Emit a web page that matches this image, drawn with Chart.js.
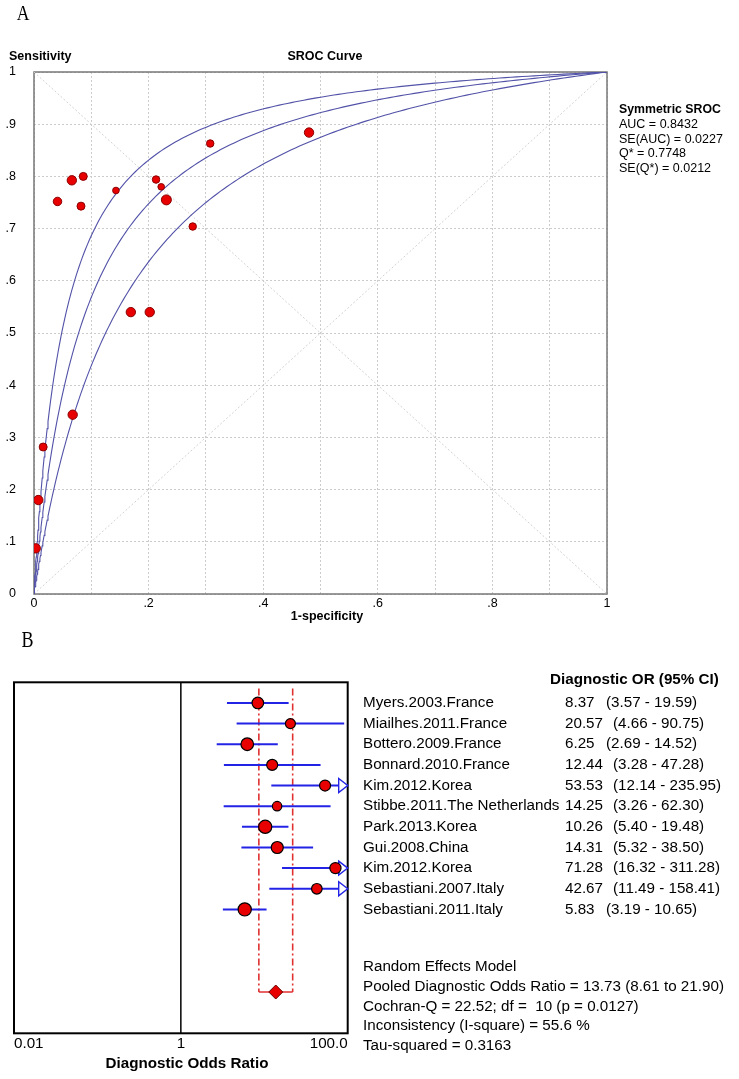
<!DOCTYPE html>
<html><head><meta charset="utf-8">
<script src="https://cdn.jsdelivr.net/npm/chart.js@4.4.1/dist/chart.umd.min.js"></script>
<style>
html,body{margin:0;padding:0;background:#fff;}
canvas{display:block;position:absolute;left:0;}
#cA{top:0;}
#cB{top:630px;}
</style></head><body>
<canvas id="cA" width="739" height="630"></canvas>
<canvas id="cB" width="739" height="449"></canvas>
<script>
// ===== Panel A: SROC data =====
const srocFPR    = [0.041, 0.066, 0.086, 0.082, 0.143, 0.213, 0.222, 0.231, 0.277, 0.3075, 0.480, 0.169, 0.202, 0.0675, 0.016, 0.0075, 0.003];
const srocTPR    = [0.752, 0.7925, 0.800, 0.743, 0.773, 0.794, 0.780, 0.755, 0.704, 0.863, 0.884, 0.540, 0.540, 0.3435, 0.2816, 0.180, 0.0875];
const srocWeight = [18, 22, 16, 16, 11, 14, 11, 25, 14, 14, 22, 22, 22, 22, 16, 22, 22];
// diagnostic odds ratios of the three symmetric SROC curves (upper, pooled, lower)
const srocDOR    = [19.7, 11.85, 7.0];
const srocTitle  = 'Symmetric SROC';
const srocStats  = ['AUC = 0.8432', 'SE(AUC) = 0.0227', 'Q* = 0.7748', 'SE(Q*) = 0.0212'];

// ===== Panel B: forest plot data =====
const studies = ['Myers.2003.France', 'Miailhes.2011.France', 'Bottero.2009.France', 'Bonnard.2010.France',
  'Kim.2012.Korea', 'Stibbe.2011.The Netherlands', 'Park.2013.Korea', 'Gui.2008.China', 'Kim.2012.Korea',
  'Sebastiani.2007.Italy', 'Sebastiani.2011.Italy'];
const dorVal = [8.37, 20.57, 6.25, 12.44, 53.53, 14.25, 10.26, 14.31, 71.28, 42.67, 5.83];
const dorLo  = [3.57, 4.66, 2.69, 3.28, 12.14, 3.26, 5.40, 5.32, 16.32, 11.49, 3.19];
const dorHi  = [19.59, 90.75, 14.52, 47.28, 235.95, 62.30, 19.48, 38.50, 311.28, 158.41, 10.65];
const studyWeight = [9.2, 6.9, 10.9, 8.3, 8.3, 6.1, 12.0, 9.9, 8.6, 7.7, 12.0];
const pooledDOR = [13.73, 8.61, 21.90];
const forestTicks = [0.01, 1, 100];
const forestTickLabels = ['0.01', '1', '100.0'];
const forestHeader = 'Diagnostic OR (95% CI)';
const forestStats = ['Random Effects Model', 'Pooled Diagnostic Odds Ratio = 13.73 (8.61 to 21.90)',
  'Cochran-Q = 22.52; df =  10 (p = 0.0127)', 'Inconsistency (I-square) = 55.6 %', 'Tau-squared = 0.3163'];

// ===== helpers =====
const SANS = '"Liberation Sans", Arial, sans-serif';
function drawText(ctx, s, x, y, size, o = {}) {
  ctx.save();
  ctx.font = (o.bold ? 'bold ' : '') + size + 'px ' + (o.family || SANS);
  ctx.fillStyle = o.color || '#000';
  ctx.textAlign = o.align || 'left';
  ctx.textBaseline = 'middle';
  if (o.sx) { ctx.translate(x, y); ctx.scale(o.sx, 1); ctx.fillText(s, 0, 0); }
  else ctx.fillText(s, x, y);
  ctx.restore();
}
// symmetric SROC curve: odds(TPR) = DOR * odds(FPR)
function srocCurve(D) {
  const pts = [];
  for (let i = 0; i <= 200; i++) {
    const f = Math.pow(i / 200, 2.2);
    pts.push({x: f, y: D * f / (1 - f + D * f)});
  }
  return pts;
}

// ===== Chart A =====
const annotA = {
  id: 'annotA',
  beforeDatasetsDraw(chart) {
    const {ctx, chartArea: a} = chart;
    ctx.save();
    ctx.strokeStyle = '#777'; ctx.lineWidth = 1.5;
    ctx.strokeRect(a.left, a.top, a.right - a.left, a.bottom - a.top);
    ctx.restore();
  },
  afterDraw(chart) {
    const {ctx, chartArea: a} = chart;
    drawText(ctx, 'A', 23, 14, 22, {family: '"Liberation Serif", "DejaVu Serif", serif', align: 'center', sx: 0.8});
    drawText(ctx, 'Sensitivity', 9, 57, 12.5, {bold: true});
    drawText(ctx, 'SROC Curve', 325, 57, 12.5, {bold: true, align: 'center'});
    drawText(ctx, '1-specificity', 327, 617, 12.5, {bold: true, align: 'center'});
    const lx = a.right + 12;
    drawText(ctx, srocTitle, lx, 110, 12.3, {bold: true});
    srocStats.forEach((s, i) => drawText(ctx, s, lx, 124.5 + i * 14.7, 12.5));
  }
};

new Chart(document.getElementById('cA'), {
  type: 'scatter',
  data: {datasets: [
    {data: srocFPR.map((x, i) => ({x, y: srocTPR[i]})), pointRadius: srocWeight.map(w => Math.sqrt(w)),
     backgroundColor: '#e80000', borderColor: '#8a0000', borderWidth: 1, order: 0},
    ...srocDOR.map(D => ({data: srocCurve(D), showLine: true, pointRadius: 0, borderColor: '#5252a8',
      borderWidth: 1.1, order: 1})),
    {data: [{x: 0, y: 0}, {x: 1, y: 1}], showLine: true, pointRadius: 0, borderColor: '#d2d2d2',
     borderWidth: 1, borderDash: [2, 2], order: 2},
    {data: [{x: 0, y: 1}, {x: 1, y: 0}], showLine: true, pointRadius: 0, borderColor: '#d2d2d2',
     borderWidth: 1, borderDash: [2, 2], order: 2}
  ]},
  options: {
    responsive: false, animation: false, events: [],
    layout: {padding: {top: 72, right: 132, left: 0, bottom: 0}},
    plugins: {legend: {display: false}, tooltip: {enabled: false}},
    scales: {
      x: {type: 'linear', min: 0, max: 1,
        ticks: {stepSize: 0.1, autoSkip: false, maxRotation: 0, padding: 2, color: '#000',
          font: {size: 12.5, family: SANS},
          callback: v => { const k = Math.round(v * 10); return k % 2 ? '' : (k === 0 ? '0' : k === 10 ? '1' : '.' + k); }},
        grid: {color: '#cccccc', drawTicks: false, lineWidth: 1},
        border: {display: false, dash: [2, 2]},
        afterFit: s => { s.height = 36; }},
      y: {type: 'linear', min: 0, max: 1,
        ticks: {stepSize: 0.1, autoSkip: false, padding: 18, color: '#000',
          font: {size: 12.5, family: SANS},
          callback: v => { const k = Math.round(v * 10); return k === 0 ? '0' : k === 10 ? '1' : '.' + k; }},
        grid: {color: '#cccccc', drawTicks: false, lineWidth: 1},
        border: {display: false, dash: [2, 2]},
        afterFit: s => { s.width = 34; }}
    }
  },
  plugins: [annotA]
});

// ===== Chart B =====
const FS = 15.2;
const annotB = {
  id: 'annotB',
  beforeDatasetsDraw(chart) {
    const {ctx, chartArea: a} = chart;
    ctx.save();
    ctx.strokeStyle = '#000'; ctx.lineWidth = 2;
    ctx.strokeRect(a.left, a.top, a.right - a.left, a.bottom - a.top);
    ctx.restore();
  },
  beforeDatasetDraw(chart, args) {
    if (args.index !== 0) return;
    const {ctx, chartArea: a, scales: {x, y}} = chart;
    ctx.save();
    ctx.strokeStyle = '#2323e6'; ctx.fillStyle = '#fff'; ctx.lineWidth = 1.4;
    dorHi.forEach((h, i) => {
      if (h <= x.max) return;
      const py = y.getPixelForValue(i), xr = a.right;
      ctx.beginPath();
      ctx.moveTo(xr - 9, py - 7); ctx.lineTo(xr, py); ctx.lineTo(xr - 9, py + 7); ctx.closePath();
      ctx.fill(); ctx.stroke();
    });
    ctx.restore();
  },
  afterDraw(chart) {
    const {ctx, chartArea: a, scales: {x, y}} = chart;
    drawText(ctx, 'B', 27.5, 11, 24, {family: '"Liberation Serif", "DejaVu Serif", serif', align: 'center', sx: 0.75});
    drawText(ctx, forestHeader, 550, y.getPixelForValue(-1.12), FS, {bold: true});
    studies.forEach((s, i) => {
      const py = y.getPixelForValue(i);
      drawText(ctx, s, 363, py, FS);
      drawText(ctx, dorVal[i].toFixed(2), 565, py, FS);
      drawText(ctx, '(' + dorLo[i].toFixed(2) + ' - ' + dorHi[i].toFixed(2) + ')', dorVal[i] >= 10 ? 613 : 606, py, FS);
    });
    const sy = y.getPixelForValue(12.8);
    forestStats.forEach((s, i) => drawText(ctx, s, 363, sy + i * 19.6, FS));
    forestTicks.forEach((t, i) => {
      const px = x.getPixelForValue(t);
      const al = i === 0 ? 'left' : (i === forestTicks.length - 1 ? 'right' : 'center');
      drawText(ctx, forestTickLabels[i], px, a.bottom + 11, FS, {align: al});
    });
    drawText(ctx, 'Diagnostic Odds Ratio', 187, a.bottom + 31, FS, {bold: true, align: 'center'});
  }
};

const ciSets = studies.map((s, i) => ({
  data: [{x: dorLo[i], y: i}, {x: dorHi[i], y: i}], showLine: true, pointRadius: 0,
  borderColor: '#2323e6', borderWidth: 2, order: 1
}));

new Chart(document.getElementById('cB'), {
  type: 'scatter',
  data: {datasets: [
    {data: dorVal.map((v, i) => ({x: v, y: i})), pointRadius: studyWeight.map(w => 1.907 * Math.sqrt(w)),
     backgroundColor: '#e80000', borderColor: '#000', borderWidth: 1.2, order: 0},
    {data: [{x: pooledDOR[0], y: 14}], pointStyle: 'rectRot', pointRadius: 7, backgroundColor: '#e80000',
     borderColor: '#600', borderWidth: 1, order: 0},
    ...ciSets,
    {data: [{x: pooledDOR[1], y: 14}, {x: pooledDOR[2], y: 14}], showLine: true, pointRadius: 0,
     borderColor: '#e03030', borderWidth: 1.5, order: 2},
    {data: [{x: pooledDOR[1], y: -0.7}, {x: pooledDOR[1], y: 14}], showLine: true, pointRadius: 0,
     borderColor: '#e03030', borderWidth: 1.6, borderDash: [7, 3, 2, 3], order: 2},
    {data: [{x: pooledDOR[2], y: -0.7}, {x: pooledDOR[2], y: 14}], showLine: true, pointRadius: 0,
     borderColor: '#e03030', borderWidth: 1.6, borderDash: [7, 3, 2, 3], order: 2},
    {data: [{x: 1, y: -1}, {x: 1, y: 16}], showLine: true, pointRadius: 0,
     borderColor: '#000', borderWidth: 1.5, order: 3}
  ]},
  options: {
    responsive: false, animation: false, events: [],
    layout: {padding: {top: 52.3, right: 391.3, left: 14, bottom: 45.7}},
    plugins: {legend: {display: false}, tooltip: {enabled: false}},
    scales: {
      x: {type: 'logarithmic', min: forestTicks[0], max: forestTicks[forestTicks.length - 1], display: false},
      y: {type: 'linear', min: -1, max: 16, reverse: true, display: false}
    }
  },
  plugins: [annotB]
});
</script>
</body></html>
